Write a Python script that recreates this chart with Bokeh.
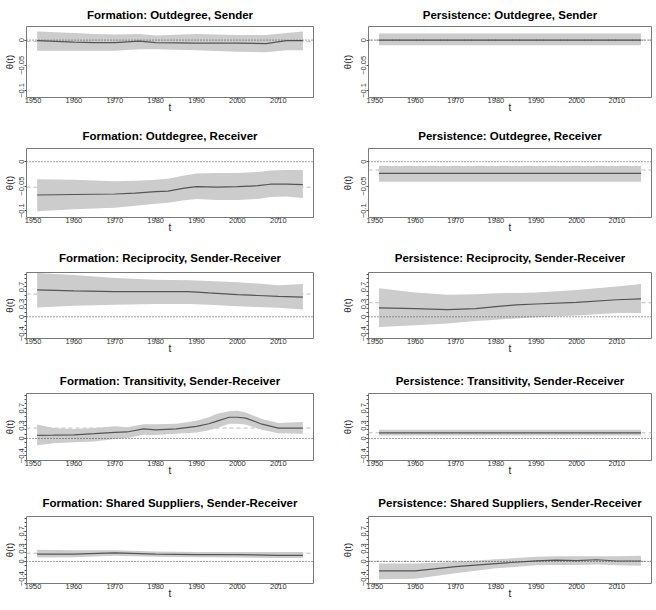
from bokeh.plotting import figure
from bokeh.layouts import gridplot
from bokeh.models import Range1d, FixedTicker, Span, ColumnDataSource
from bokeh.embed import file_html
from bokeh.resources import INLINE

# ---------------- data ----------------
titles = [
    "Formation: Outdegree, Sender", "Persistence: Outdegree, Sender",
    "Formation: Outdegree, Receiver", "Persistence: Outdegree, Receiver",
    "Formation: Reciprocity, Sender-Receiver", "Persistence: Reciprocity, Sender-Receiver",
    "Formation: Transitivity, Sender-Receiver", "Persistence: Transitivity, Sender-Receiver",
    "Formation: Shared Suppliers, Sender-Receiver", "Persistence: Shared Suppliers, Sender-Receiver",
]
x_label = "t"
y_label = "\u03b8(t)"

x_ticks = [1950, 1960, 1970, 1980, 1990, 2000, 2010]
x_limits = [1948.4, 2018.6]
small_limits = [-0.114, 0.027]
large_limits = [-0.51, 1.04]
small_ticks = [-0.1, -0.05, 0]
small_tick_labels = ["\u22120.1", "\u22120.05", "0"]
large_ticks = [-0.4, 0, 0.3, 0.7]
large_tick_labels = ["\u22120.4", "0", "0.3", "0.7"]
large_minor_ticks = [-0.5, -0.4, -0.3, -0.2, -0.1, 0.0, 0.1, 0.2, 0.3, 0.4, 0.5, 0.6, 0.7, 0.8, 0.9, 1.0]
zero_level = 0.0

# Formation: Outdegree, Sender
fos_year = [1951, 1960, 1965, 1970, 1976, 1980, 1990, 2000, 2007, 2012, 2016]
fos_mean = [-0.001, -0.004, -0.005, -0.005, -0.002, -0.005, -0.006, -0.006, -0.007, -0.001, -0.001]
fos_hi = [0.017, 0.014, 0.012, 0.011, 0.012, 0.009, 0.012, 0.010, 0.010, 0.014, 0.017]
fos_lo = [-0.021, -0.021, -0.021, -0.021, -0.018, -0.018, -0.020, -0.023, -0.024, -0.020, -0.020]
fos_ref = -0.003

# Persistence: Outdegree, Sender
pos_year = [1951, 2016]
pos_mean = [0.0, 0.0]
pos_hi = [0.013, 0.013]
pos_lo = [-0.010, -0.010]
pos_ref = 0.0

# Formation: Outdegree, Receiver
for_year = [1951, 1960, 1970, 1975, 1980, 1983, 1987, 1990, 1995, 2000, 2005, 2008, 2012, 2016]
for_mean = [-0.068, -0.067, -0.066, -0.064, -0.061, -0.060, -0.054, -0.051, -0.052, -0.051, -0.049, -0.046, -0.046, -0.047]
for_hi = [-0.036, -0.037, -0.040, -0.039, -0.037, -0.035, -0.028, -0.024, -0.023, -0.023, -0.021, -0.018, -0.017, -0.017]
for_lo = [-0.101, -0.097, -0.094, -0.090, -0.086, -0.084, -0.079, -0.076, -0.078, -0.078, -0.076, -0.072, -0.071, -0.074]
for_ref = -0.052

# Persistence: Outdegree, Receiver
por_year = [1951, 2016]
por_mean = [-0.024, -0.024]
por_hi = [-0.009, -0.009]
por_lo = [-0.041, -0.041]
por_ref = -0.017

# Formation: Reciprocity
frc_year = [1951, 1960, 1970, 1980, 1988, 1993, 2000, 2005, 2010, 2016]
frc_mean = [0.63, 0.61, 0.59, 0.59, 0.59, 0.56, 0.52, 0.50, 0.48, 0.46]
frc_hi = [1.03, 0.98, 0.91, 0.87, 0.86, 0.84, 0.81, 0.78, 0.74, 0.77]
frc_lo = [0.22, 0.26, 0.28, 0.30, 0.30, 0.28, 0.25, 0.23, 0.21, 0.17]
frc_ref = 0.535

# Persistence: Reciprocity
prc_year = [1951, 1960, 1968, 1975, 1980, 1985, 1990, 2000, 2010, 2016]
prc_mean = [0.21, 0.19, 0.17, 0.19, 0.24, 0.28, 0.30, 0.34, 0.40, 0.42]
prc_hi = [0.67, 0.57, 0.52, 0.53, 0.55, 0.56, 0.57, 0.63, 0.71, 0.77]
prc_lo = [-0.24, -0.20, -0.16, -0.10, -0.07, -0.04, -0.01, 0.03, 0.09, 0.09]
prc_ref = 0.33

# Formation: Transitivity
ftr_year = [1951, 1955, 1960, 1965, 1970, 1973, 1977, 1980, 1985, 1990, 1993, 1995, 1998, 2000, 2002, 2006, 2010, 2016]
ftr_mean = [0.07, 0.075, 0.085, 0.11, 0.14, 0.15, 0.22, 0.20, 0.22, 0.28, 0.34, 0.40, 0.49, 0.49, 0.47, 0.33, 0.24, 0.24]
ftr_hi = [0.32, 0.24, 0.22, 0.24, 0.28, 0.26, 0.33, 0.33, 0.34, 0.41, 0.49, 0.57, 0.63, 0.64, 0.60, 0.45, 0.36, 0.38]
ftr_lo = [-0.16, -0.11, -0.085, -0.07, -0.015, 0.01, 0.085, 0.08, 0.11, 0.14, 0.19, 0.24, 0.34, 0.34, 0.32, 0.20, 0.12, 0.11]
ftr_ref = 0.24

# Persistence: Transitivity
ptr_year = [1951, 2016]
ptr_mean = [0.13, 0.13]
ptr_hi = [0.20, 0.20]
ptr_lo = [0.07, 0.07]
ptr_ref = 0.13

# Formation: Shared Suppliers
fss_year = [1951, 1960, 1970, 1980, 1990, 2000, 2010, 2016]
fss_mean = [0.17, 0.17, 0.20, 0.17, 0.16, 0.16, 0.14, 0.14]
fss_hi = [0.27, 0.26, 0.26, 0.23, 0.22, 0.22, 0.22, 0.22]
fss_lo = [0.09, 0.10, 0.13, 0.11, 0.10, 0.09, 0.08, 0.08]
fss_ref = 0.19

# Persistence: Shared Suppliers
pss_year = [1951, 1960, 1970, 1980, 1990, 1995, 2000, 2005, 2010, 2016]
pss_mean = [-0.22, -0.22, -0.12, -0.05, 0.015, 0.03, 0.02, 0.04, 0.01, 0.01]
pss_hi = [-0.05, -0.05, -0.01, 0.05, 0.11, 0.12, 0.12, 0.12, 0.12, 0.13]
pss_lo = [-0.41, -0.40, -0.27, -0.16, -0.085, -0.08, -0.08, -0.07, -0.09, -0.10]
pss_ref = 0.005

panels = [
    (fos_year, fos_mean, fos_lo, fos_hi, fos_ref),
    (pos_year, pos_mean, pos_lo, pos_hi, pos_ref),
    (for_year, for_mean, for_lo, for_hi, for_ref),
    (por_year, por_mean, por_lo, por_hi, por_ref),
    (frc_year, frc_mean, frc_lo, frc_hi, frc_ref),
    (prc_year, prc_mean, prc_lo, prc_hi, prc_ref),
    (ftr_year, ftr_mean, ftr_lo, ftr_hi, ftr_ref),
    (ptr_year, ptr_mean, ptr_lo, ptr_hi, ptr_ref),
    (fss_year, fss_mean, fss_lo, fss_hi, fss_ref),
    (pss_year, pss_mean, pss_lo, pss_hi, pss_ref),
]

# ---------------- layout ----------------
col_width = 328
row_heights = [119, 122, 123, 122, 123]
row_top = [26, 29, 31, 29, 30]
row_bottom = [22, 24, 26, 26, 26]
title_standoff = [10, 12, 15, 12, 13]
col_left = [25, 40]
col_right = [15, 5]
ylab_standoff = [2, 6]
FONT = "Liberation Sans"

figs = []
for i, (yr, mn, lo, hi, ref) in enumerate(panels):
    r, c = divmod(i, 2)
    small = r < 2
    ylim = small_limits if small else large_limits
    p = figure(width=col_width, height=row_heights[r],
               x_range=Range1d(x_limits[0], x_limits[1]),
               y_range=Range1d(ylim[0], ylim[1]),
               output_backend="svg", toolbar_location=None,
               title=titles[i],
               min_border_left=col_left[c], min_border_right=col_right[c],
               min_border_top=row_top[r], min_border_bottom=row_bottom[r])
    p.grid.visible = False
    p.outline_line_color = "#7a7a7a"
    p.outline_line_width = 1
    p.background_fill_color = "white"
    p.border_fill_color = "white"

    p.title.align = "center"
    p.title.vertical_align = "middle"
    p.title.text_font = FONT
    p.title.text_font_size = "11.5px"
    p.title.text_font_style = "bold"
    p.title.text_color = "#000000"
    p.title.standoff = title_standoff[r]

    src = ColumnDataSource(dict(year=yr, mean=mn, lo=lo, hi=hi))
    p.add_layout(Span(location=ref, dimension="width", line_color="#bdbdbd",
                      line_dash="4 3", line_width=1, level="underlay"))
    p.varea(x="year", y1="lo", y2="hi", source=src, fill_color="#cccccc")
    p.line(x="year", y="mean", source=src, line_color="#555555", line_width=1.2)
    p.add_layout(Span(location=zero_level, dimension="width", line_color="#444444",
                      line_dash="1 2", line_width=1))

    # axes
    p.xaxis.ticker = FixedTicker(ticks=x_ticks, minor_ticks=[])
    if small:
        p.yaxis.ticker = FixedTicker(ticks=small_ticks, minor_ticks=[])
        p.yaxis.major_label_overrides = dict(zip(small_ticks, small_tick_labels))
    else:
        p.yaxis.ticker = FixedTicker(ticks=large_ticks, minor_ticks=large_minor_ticks)
        p.yaxis.major_label_overrides = dict(zip(large_ticks, large_tick_labels))
    for ax in (p.xaxis, p.yaxis):
        ax.axis_line_color = None
        ax.major_tick_line_color = "#555555"
        ax.minor_tick_line_color = "#555555"
        ax.major_tick_out = 2
        ax.major_tick_in = 0
        ax.minor_tick_out = 2
        ax.minor_tick_in = 0
        ax.major_label_text_font = FONT
        ax.major_label_text_font_size = "7.5px"
        ax.major_label_text_color = "#333333"
        ax.axis_label_text_font = FONT
        ax.axis_label_text_font_style = "normal"
        ax.axis_label_text_color = "#222222"
    p.yaxis.major_label_orientation = "vertical"
    p.yaxis.major_label_standoff = 0
    p.xaxis.major_label_standoff = -2

    p.xaxis.axis_label = x_label
    p.xaxis.axis_label_text_font_size = "10px"
    p.xaxis.axis_label_standoff = -4
    p.yaxis.axis_label = y_label
    p.yaxis.axis_label_text_font_size = "9.5px"
    p.yaxis.axis_label_standoff = ylab_standoff[c]
    figs.append(p)

grid = gridplot([figs[k:k + 2] for k in range(0, 10, 2)], toolbar_location=None)

open("out.html", "w").write(file_html(grid, INLINE))
